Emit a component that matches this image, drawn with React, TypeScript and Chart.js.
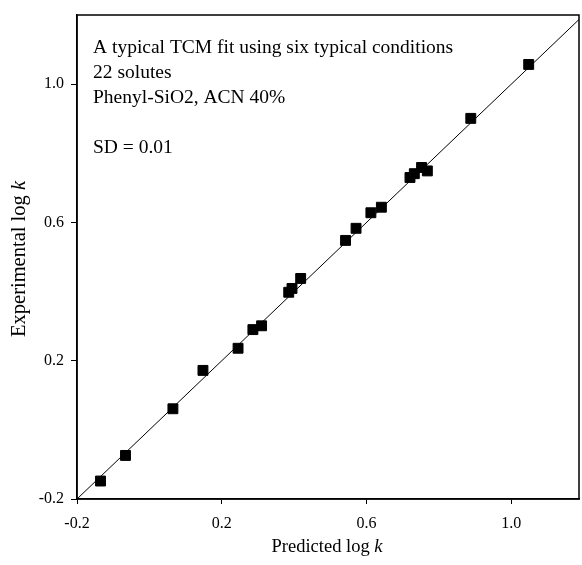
import React, { useEffect, useRef } from "react";
import { Chart, registerables } from "chart.js";

Chart.register(...registerables);

const predicted = [-0.135, -0.066, 0.065, 0.148, 0.245, 0.286, 0.31, 0.385, 0.394, 0.418, 0.542, 0.571, 0.612, 0.641, 0.72, 0.732, 0.752, 0.768, 0.888, 1.048];
const experimental = [-0.148, -0.074, 0.061, 0.172, 0.236, 0.29, 0.301, 0.398, 0.409, 0.438, 0.548, 0.583, 0.628, 0.644, 0.73, 0.741, 0.759, 0.749, 0.901, 1.057];
const fitLine = [-0.2, 1.2];
const xTicks = [-0.2, 0.2, 0.6, 1.0];
const yTicks = [-0.2, 0.2, 0.6, 1.0];
const annotationLines = ["A typical TCM fit using six typical conditions", "22 solutes", "Phenyl-SiO2, ACN 40%", "", "SD = 0.01"];
const xTitle = "Predicted log ";
const yTitle = "Experimental log ";
const italicVar = "k";

const FONT = "'Liberation Serif', 'Times New Roman', serif";

function drawMixed(ctx: any, plain: string, ital: string, size: number, cx: number, baseY: number) {
  ctx.font = `${size}px ${FONT}`;
  const w1 = ctx.measureText(plain).width;
  ctx.font = `italic ${size}px ${FONT}`;
  const w2 = ctx.measureText(ital).width;
  const x0 = cx - (w1 + w2) / 2;
  ctx.font = `${size}px ${FONT}`;
  ctx.fillText(plain, x0, baseY);
  ctx.font = `italic ${size}px ${FONT}`;
  ctx.fillText(ital, x0 + w1, baseY);
}

const decorPlugin = {
  id: "decor",
  afterDraw(chart: any) {
    const { ctx, chartArea } = chart;
    const { left, top, right, bottom } = chartArea;
    ctx.save();
    ctx.strokeStyle = "#000";
    ctx.lineWidth = 1.5;
    ctx.strokeRect(left, top, right - left, bottom - top);

    ctx.fillStyle = "#000";
    ctx.textBaseline = "alphabetic";
    ctx.textAlign = "left";
    ctx.font = `19.5px ${FONT}`;
    annotationLines.forEach((line, i) => {
      if (line) ctx.fillText(line, 93, 53 + i * 25);
    });

    drawMixed(ctx, xTitle, italicVar, 18.5, 327, 552);

    ctx.translate(25, 259);
    ctx.rotate(-Math.PI / 2);
    drawMixed(ctx, yTitle, italicVar, 20.5, 0, 0);
    ctx.restore();
  },
};

export default function App() {
  const ref = useRef<HTMLCanvasElement>(null);
  useEffect(() => {
    if (!ref.current) return;
    const chart = new Chart(ref.current, {
      type: "scatter",
      data: {
        datasets: [
          {
            data: fitLine.map((v) => ({ x: v, y: v })),
            showLine: true,
            borderColor: "#000",
            borderWidth: 1,
            pointRadius: 0,
            fill: false,
          },
          {
            data: predicted.map((p, i) => ({ x: p, y: experimental[i] })),
            pointStyle: "rect",
            pointRadius: 7,
            backgroundColor: "#000",
            borderColor: "#000",
            borderWidth: 1,
          },
        ],
      },
      options: {
        animation: false,
        responsive: false,
        layout: { autoPadding: false, padding: { top: 15, right: 3, left: 0, bottom: 0 } },
        plugins: { legend: { display: false }, tooltip: { enabled: false } },
        scales: {
          x: {
            type: "linear",
            min: -0.2,
            max: 1.187,
            afterBuildTicks: (s: any) => {
              s.ticks = xTicks.map((v) => ({ value: v }));
            },
            afterFit: (s: any) => {
              s.height = 66;
              s.paddingLeft = 0;
              s.paddingRight = 0;
            },
            grid: { drawOnChartArea: false, drawTicks: true, tickLength: 5, color: "#000", lineWidth: 1 },
            border: { display: true, color: "#000", width: 1.5 },
            ticks: {
              color: "#000",
              font: { family: FONT, size: 16 },
              padding: 10,
              maxRotation: 0,
              callback: (v: any) => Number(v).toFixed(1),
            },
          },
          y: {
            type: "linear",
            min: -0.2,
            max: 1.2,
            afterBuildTicks: (s: any) => {
              s.ticks = yTicks.map((v) => ({ value: v }));
            },
            afterFit: (s: any) => {
              s.width = 77;
              s.paddingTop = 0;
              s.paddingBottom = 0;
            },
            grid: { drawOnChartArea: false, drawTicks: true, tickLength: 6, color: "#000", lineWidth: 1 },
            border: { display: true, color: "#000", width: 1.5 },
            ticks: {
              color: "#000",
              font: { family: FONT, size: 16 },
              padding: 7,
              callback: (v: any) => Number(v).toFixed(1),
            },
          },
        },
      },
      plugins: [decorPlugin],
    });
    return () => chart.destroy();
  }, []);
  return (
    <div style={{ position: "fixed", left: 0, top: 0, width: 582, height: 565, background: "#fff" }}>
      <canvas ref={ref} width={582} height={565} style={{ width: 582, height: 565, display: "block" }} />
    </div>
  );
}
